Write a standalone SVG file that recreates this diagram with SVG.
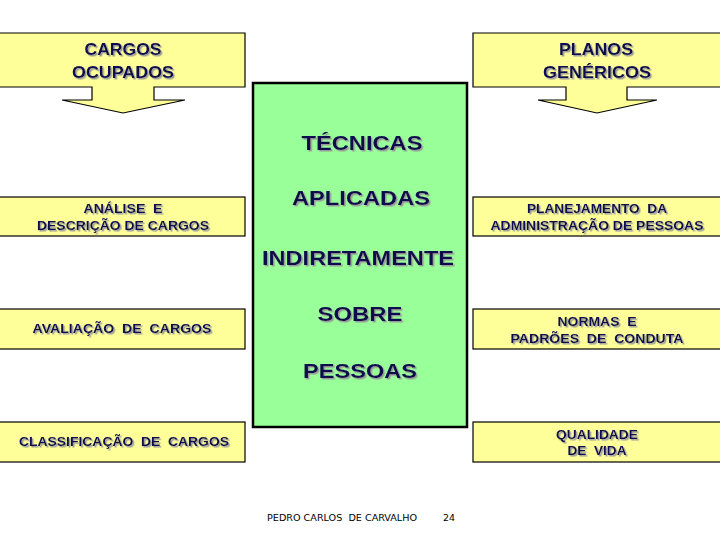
<svg xmlns="http://www.w3.org/2000/svg" width="720" height="540" viewBox="0 0 720 540">
<defs>
<filter id="sh" x="-10%" y="-30%" width="120%" height="160%">
<feDropShadow dx="1.5" dy="1.5" stdDeviation="0.4" flood-color="#9a9a9a" flood-opacity="1"/>
</filter>
<style>
.box{fill:#FFFF99;stroke:#000;stroke-width:1.2}
.green{fill:#99FF99;stroke:#000;stroke-width:2.5}
.t{font-family:"Liberation Sans",Arial,sans-serif;font-weight:bold;fill:#0A0A4E;text-anchor:middle;filter:url(#sh);white-space:pre}
.s{font-size:13.5px}
.m{font-size:16.5px}
.l{font-size:21px}
.f{font-family:"DejaVu Sans Condensed","Liberation Sans Narrow",sans-serif;font-size:8.5px;fill:#000;white-space:pre}
</style>
</defs>
<rect width="720" height="540" fill="#fff"/>
<g id="cargos-ocupados">
<path class="box" d="M-1,33 H245 V87 H154 V100 H185 L123,113 L62,100 H92 V87 H-1 Z"/>
<text class="t m" x="123" y="55" textLength="77" lengthAdjust="spacingAndGlyphs">CARGOS</text>
<text class="t m" x="123" y="78" textLength="102" lengthAdjust="spacingAndGlyphs">OCUPADOS</text>
</g>
<g id="planos-genericos">
<path class="box" d="M473,33 H721 V87 H627 V100 H657 L597,113 L538,100 H566 V87 H473 Z"/>
<text class="t m" x="596" y="55" textLength="74" lengthAdjust="spacingAndGlyphs">PLANOS</text>
<text class="t m" x="597" y="78" textLength="108" lengthAdjust="spacingAndGlyphs">GENÉRICOS</text>
</g>
<g id="tecnicas">
<rect class="green" x="253" y="83" width="214" height="344"/>
<text class="t l" x="362" y="150" textLength="121" lengthAdjust="spacingAndGlyphs">TÉCNICAS</text>
<text class="t l" x="361" y="205" textLength="138" lengthAdjust="spacingAndGlyphs">APLICADAS</text>
<text class="t l" x="358" y="265" textLength="192" lengthAdjust="spacingAndGlyphs">INDIRETAMENTE</text>
<text class="t l" x="360" y="321" textLength="85" lengthAdjust="spacingAndGlyphs">SOBRE</text>
<text class="t l" x="360" y="378" textLength="114" lengthAdjust="spacingAndGlyphs">PESSOAS</text>
</g>
<g id="analise">
<rect class="box" x="-1" y="197" width="246" height="39"/>
<text class="t s" x="123" y="213" textLength="79" lengthAdjust="spacingAndGlyphs">ANÁLISE  E</text>
<text class="t s" x="123" y="230" textLength="172" lengthAdjust="spacingAndGlyphs">DESCRIÇÃO DE CARGOS</text>
</g>
<g id="avaliacao">
<rect class="box" x="-1" y="309" width="246" height="40"/>
<text class="t s" x="122" y="333" textLength="179" lengthAdjust="spacingAndGlyphs">AVALIAÇÃO  DE  CARGOS</text>
</g>
<g id="classificacao">
<rect class="box" x="-1" y="422" width="246" height="40"/>
<text class="t s" x="124" y="446" textLength="210" lengthAdjust="spacingAndGlyphs">CLASSIFICAÇÃO  DE  CARGOS</text>
</g>
<g id="planejamento">
<rect class="box" x="473" y="197" width="248" height="39"/>
<text class="t s" x="597" y="213" textLength="140" lengthAdjust="spacingAndGlyphs">PLANEJAMENTO  DA</text>
<text class="t s" x="597" y="230" textLength="213" lengthAdjust="spacingAndGlyphs">ADMINISTRAÇÃO DE PESSOAS</text>
</g>
<g id="normas">
<rect class="box" x="473" y="309" width="248" height="40"/>
<text class="t s" x="597" y="326" textLength="79" lengthAdjust="spacingAndGlyphs">NORMAS  E</text>
<text class="t s" x="597" y="343" textLength="173" lengthAdjust="spacingAndGlyphs">PADRÕES  DE  CONDUTA</text>
</g>
<g id="qualidade">
<rect class="box" x="473" y="422" width="248" height="40"/>
<text class="t s" x="597" y="439" textLength="82" lengthAdjust="spacingAndGlyphs">QUALIDADE</text>
<text class="t s" x="597" y="455" textLength="59" lengthAdjust="spacingAndGlyphs">DE  VIDA</text>
</g>
<g id="connectors"></g>
<g id="footer">
<text class="f" x="267" y="521" textLength="150" lengthAdjust="spacingAndGlyphs">PEDRO CARLOS  DE CARVALHO</text>
<text class="f" x="443" y="521" textLength="12" lengthAdjust="spacingAndGlyphs">24</text>
</g>
</svg>
